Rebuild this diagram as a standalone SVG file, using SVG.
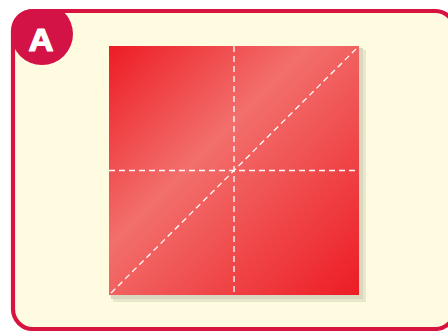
<svg xmlns="http://www.w3.org/2000/svg" width="448" height="331" viewBox="0 0 448 331">
<defs>
<linearGradient id="paper" x1="109" y1="46" x2="359" y2="295" gradientUnits="userSpaceOnUse">
<stop offset="0" stop-color="#ed1c24"/>
<stop offset="0.4" stop-color="#f26f6c"/>
<stop offset="1" stop-color="#ed1c24"/>
</linearGradient>
<clipPath id="frameClip"><rect x="11" y="9" width="446" height="322" rx="22"/></clipPath>
<style>
.fold{stroke:#ffffff;stroke-width:1.3;stroke-dasharray:6 4;fill:none}
</style>
</defs>
<rect width="448" height="331" fill="#ffffff"/>
<g id="frame">
<rect x="13" y="11" width="442" height="318" rx="20" fill="#fefbe0" stroke="#d7143f" stroke-width="4.2"/>
</g>
<g id="badge" clip-path="url(#frameClip)">
<circle cx="42" cy="34" r="31" fill="#d31245"/>
<text x="41" y="51" font-family="Liberation Sans, Arial, sans-serif" font-weight="bold" font-size="31" fill="#ffffff" stroke="#ffffff" stroke-width="1.2" stroke-linejoin="round" text-anchor="middle" transform="translate(41 0) scale(1.12 1) translate(-41 0)">A</text>
</g>
<g id="paper-sheet">
<rect x="113" y="50" width="253" height="252" fill="#e9e6cc"/>
<rect x="111" y="48" width="252" height="251" fill="#d9d7bf"/>
<rect x="109" y="46" width="250" height="249" fill="url(#paper)"/>
</g>
<g id="folds">
<line class="fold" x1="234" y1="46" x2="234" y2="295"/>
<line class="fold" x1="109" y1="170.5" x2="359" y2="170.5"/>
<line class="fold" x1="111" y1="293" x2="357" y2="48"/>
</g>
</svg>
